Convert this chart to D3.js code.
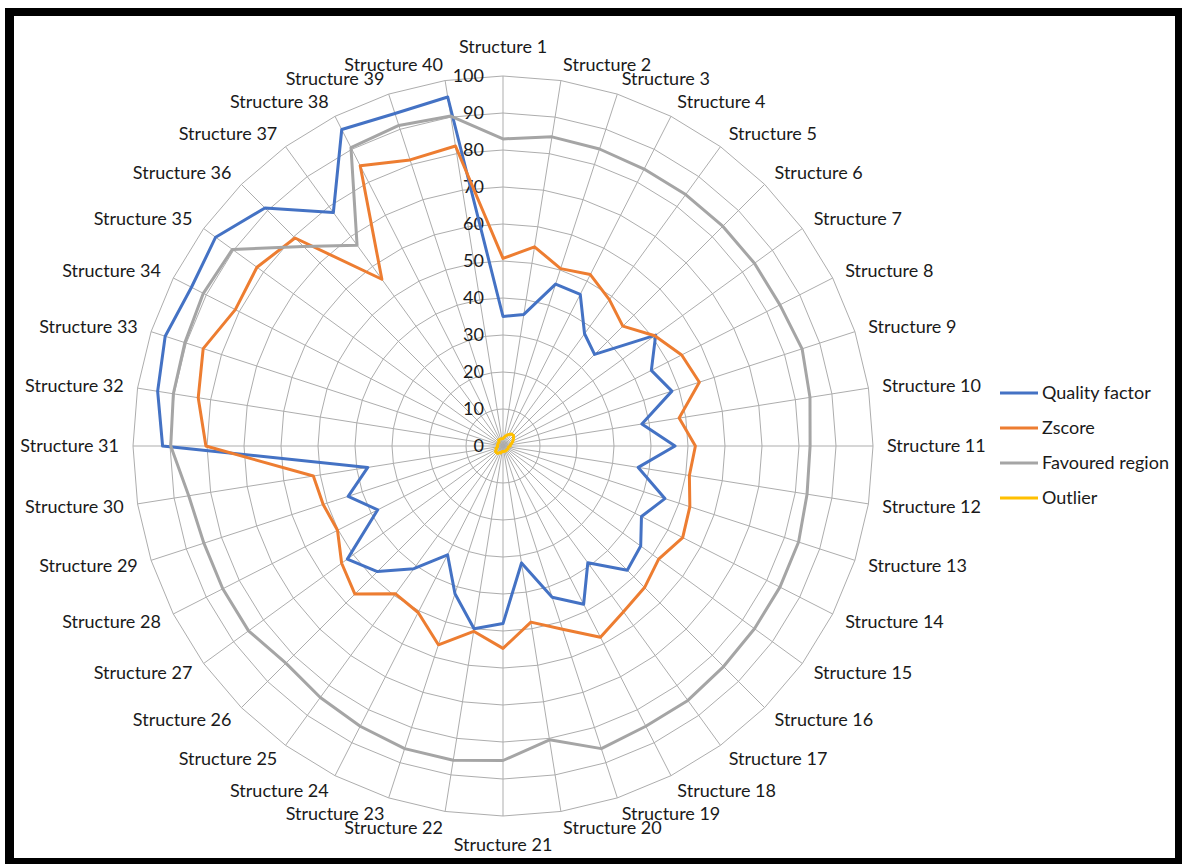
<!DOCTYPE html>
<html>
<head>
<meta charset="utf-8">
<script src="https://cdn.jsdelivr.net/npm/d3@7"></script>
<style>
  html, body { margin: 0; padding: 0; background: #fff; }
  svg { display: block; }
  text { font-family: Lato, "Open Sans", sans-serif; fill: #1a1a1a; }
</style>
</head>
<body>
<svg id="chart" width="1182" height="864"></svg>
<script>
const categories = ["Structure 1","Structure 2","Structure 3","Structure 4","Structure 5","Structure 6","Structure 7","Structure 8","Structure 9","Structure 10",
  "Structure 11","Structure 12","Structure 13","Structure 14","Structure 15","Structure 16","Structure 17","Structure 18","Structure 19","Structure 20",
  "Structure 21","Structure 22","Structure 23","Structure 24","Structure 25","Structure 26","Structure 27","Structure 28","Structure 29","Structure 30",
  "Structure 31","Structure 32","Structure 33","Structure 34","Structure 35","Structure 36","Structure 37","Structure 38","Structure 39","Structure 40"];

const qualityFactor = [35, 36, 46, 46, 37.5, 35, 51, 45, 48, 38,
  46.5, 37, 46, 42, 46, 47.5, 39, 48, 43, 32,
  48, 50, 42, 33, 41, 48, 52, 38, 44, 37,
  92, 94.5, 96, 94.5, 96, 91, 78, 96, 94.5, 95.5];

const zscore = [50.7, 54.5, 50.4, 52, 48.9, 45.8, 50.7, 54.2, 55.8, 48.2,
  52, 51, 53.1, 54.5, 52, 54.1, 55.4, 58, 52.1, 48.2,
  54.7, 50.7, 56.5, 50.5, 49.4, 56.6, 53.9, 50.2, 51.1, 51.9,
  80.3, 83.4, 85.2, 81.2, 82.2, 79.5, 55.7, 85, 81.3, 82.1];

const favouredRegion = [83, 84.6, 84.4, 84, 84, 84, 84, 84, 85, 84,
  83, 83.2, 84, 84, 84, 84.3, 85, 85, 86, 80.4,
  85, 86, 86, 85, 84, 83, 85, 85, 85, 86,
  89.8, 90.2, 90.4, 90.9, 90.4, 76.3, 67.1, 90.5, 91.1, 90.3];

const outlier = [2, 2.5, 3, 3.5, 4, 4, 3.5, 3, 2.5, 2,
  2, 1.5, 1.5, 1.5, 1.5, 1.5, 1.5, 1.5, 1.5, 1.5,
  1.5, 1.5, 2, 2, 2.5, 2.5, 2.5, 2, 2, 1.5,
  1.5, 1.5, 1.5, 1.5, 1.5, 1.5, 2, 2, 2, 2];

const tickValues = [0, 10, 20, 30, 40, 50, 60, 70, 80, 90, 100];

const seriesNames = ["Quality factor", "Zscore", "Favoured region", "Outlier"];
const seriesColors = ["#4472C4", "#ED7D31", "#A5A5A5", "#FFC000"];
const seriesData = [qualityFactor, zscore, favouredRegion, outlier];

const W = 1182, H = 864;
const cx = 503, cy = 446, R = 370;
const svg = d3.select("#chart");

// frame
svg.append("rect").attr("x", 5).attr("y", 8).attr("width", W - 5).attr("height", H - 8).attr("fill", "#000");
svg.append("rect").attr("x", 14).attr("y", 16).attr("width", 1161).attr("height", 842).attr("fill", "#fff");

const r = d3.scaleLinear().domain([0, 100]).range([0, R]);
const angle = d3.scaleLinear().domain([0, categories.length]).range([0, 2 * Math.PI]);

const g = svg.append("g").attr("transform", `translate(${cx},${cy})`);

// polygon gridlines
const gridLine = d3.lineRadial().curve(d3.curveLinearClosed)
  .angle((d, i) => angle(i)).radius(d => r(d));
tickValues.slice(1).forEach(t => {
  g.append("path").attr("d", gridLine(categories.map(() => t)))
    .attr("fill", "none").attr("stroke", "#adadad").attr("stroke-width", 1);
});
// spokes
categories.forEach((c, i) => {
  const a = angle(i);
  g.append("line").attr("x1", 0).attr("y1", 0)
    .attr("x2", r(100) * Math.sin(a)).attr("y2", -r(100) * Math.cos(a))
    .attr("stroke", "#adadad").attr("stroke-width", 1);
});

// tick labels
tickValues.forEach(t => {
  g.append("text").attr("x", -19).attr("y", -r(t)).attr("dy", "0.35em")
    .attr("text-anchor", "end").style("font-size", "18px").text(t);
});

// category labels
categories.forEach((c, i) => {
  const a = angle(i);
  const s = Math.sin(a), co = Math.cos(a);
  const px = R * s, py = -R * co;
  let x, y, anchor;
  if (Math.abs(s) < 1e-6) {
    x = 0; anchor = "middle";
    y = co > 0 ? -R - 29 : R + 28.5;
  } else {
    x = px + 14 * s;
    y = py - 16.5 * co;
    anchor = s > 0 ? "start" : "end";
  }
  g.append("text").attr("x", x).attr("y", y).attr("dy", "0.35em")
    .attr("text-anchor", anchor).style("font-size", "18px").text(c);
});

// series
const line = d3.lineRadial().curve(d3.curveLinearClosed)
  .angle((d, i) => angle(i)).radius(d => r(d));
seriesData.forEach((data, k) => {
  g.append("path").attr("d", line(data))
    .attr("fill", "none").attr("stroke", seriesColors[k])
    .attr("stroke-width", 3).attr("stroke-linejoin", "round");
});

// legend
const lg = svg.append("g");
seriesNames.forEach((n, k) => {
  const y = 393 + k * 35;
  lg.append("line").attr("x1", 1000).attr("x2", 1038).attr("y1", y).attr("y2", y)
    .attr("stroke", seriesColors[k]).attr("stroke-width", 3);
  lg.append("text").attr("x", 1042).attr("y", y).attr("dy", "0.35em")
    .style("font-size", "18px").text(n);
});
</script>
</body>
</html>
